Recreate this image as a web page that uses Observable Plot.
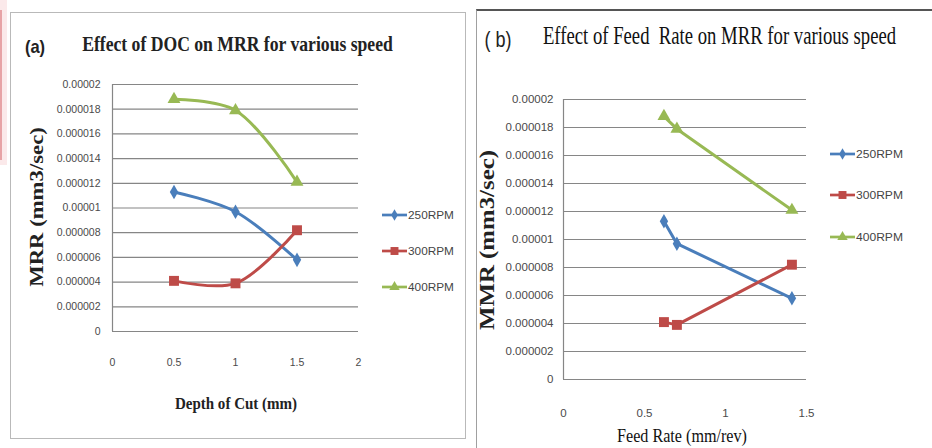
<!DOCTYPE html>
<html><head><meta charset="utf-8">
<script src="https://cdn.jsdelivr.net/npm/d3@7"></script>
<script src="https://cdn.jsdelivr.net/npm/@observablehq/plot@0.6"></script>
<style>
body{margin:0;background:#fff;}
#root{position:relative;width:932px;height:448px;overflow:hidden;background:#fff;}
.abs{position:absolute;}
.lbl{position:absolute;left:0;top:0;white-space:pre;transform-origin:0 0;line-height:1;}
</style></head><body><div id="root"></div>
<script>
// ---- data ----
const speeds = ["250RPM", "300RPM", "400RPM"];
const depthOfCut = [0.5, 1, 1.5];            // mm
const feedRate = [0.62, 0.70, 1.41];         // mm/rev
const mrr250 = [0.0000113, 0.0000097, 0.0000058];
const mrr300 = [0.0000041, 0.0000039, 0.0000082];
const mrr400 = [0.0000188, 0.0000179, 0.0000121];
const yTicks = [0, 0.000002, 0.000004, 0.000006, 0.000008, 0.00001, 0.000012, 0.000014, 0.000016, 0.000018, 0.00002];
const xTicksA = [0, 0.5, 1, 1.5, 2];
const xTicksB = [0, 0.5, 1, 1.5];

const colors = ["#4a7ebb", "#be4b48", "#98b954"];
const symbols = ["diamond", "square", "triangle"];
const symbolR = [4.4, 5.6, 4.8];

const series = [mrr250, mrr300, mrr400];
const rows = [];
speeds.forEach((s, i) => series[i].forEach((v, j) => rows.push({speed: s, doc: depthOfCut[j], feed: feedRate[j], mrr: v})));

const root = document.getElementById("root");
const fmtY = d => d === 0 ? "0" : d.toFixed(6).replace(/0+$/, "");

function panel({x, xDomain, xTicks, width, height, mt, mb, ml, mr, curve, padX, padY, fs}) {
  return Plot.plot({
    width, height, marginTop: mt, marginBottom: mb, marginLeft: ml, marginRight: mr,
    style: {fontFamily: "'Liberation Sans', Arial, sans-serif", fontSize: fs + "px", color: "#4a4a4a", background: "transparent", overflow: "visible"},
    x: {domain: xDomain},
    y: {domain: [0, 0.00002]},
    color: {domain: speeds, range: colors},
    marks: [
      Plot.gridY(yTicks, {stroke: "#868686", strokeOpacity: 1, strokeWidth: 1.2}),
      Plot.ruleX([0], {stroke: "#868686", strokeWidth: 1.2}),
      Plot.axisY(yTicks, {tickSize: 0, tickPadding: padY, tickFormat: fmtY, label: null}),
      Plot.axisX(xTicks, {tickSize: 0, tickPadding: padX, tickFormat: d => String(d), label: null}),
      Plot.line(rows, {x, y: "mrr", z: "speed", stroke: "speed", strokeWidth: 3, curve}),
      ...speeds.map((s, i) => Plot.dot(rows.filter(r => r.speed === s),
        {x, y: "mrr", fill: "speed", symbol: symbols[i], r: symbolR[i], stroke: null}))
    ]
  });
}

function place(el, left, top) {
  el.style.position = "absolute"; el.style.left = left + "px"; el.style.top = top + "px";
  root.appendChild(el);
}

function box(left, top, w, h, css) {
  const d = document.createElement("div");
  d.className = "abs";
  Object.assign(d.style, {left: left + "px", top: top + "px", width: w + "px", height: h + "px"}, css);
  root.appendChild(d);
}

function label(text, cx, cy, w, font, color, rot = 0) {
  const s = document.createElement("span");
  s.className = "lbl";
  s.textContent = text;
  s.style.font = font;
  s.style.color = color || "#222";
  root.appendChild(s);
  const w0 = s.offsetWidth;
  const k = w / w0;
  s.style.transform = `translate(${cx}px,${cy}px) rotate(${rot}deg) scale(${k},1) translate(-50%,-50%)`;
}

function legend(left, ys, fs, textW) {
  speeds.forEach((s, i) => {
    const svg = d3.create("svg").attr("width", 30).attr("height", 16)
      .style("position", "absolute").style("left", left + "px").style("top", (ys[i] - 8) + "px").style("overflow", "visible");
    svg.append("line").attr("x1", 0).attr("x2", 25).attr("y1", 8).attr("y2", 8)
      .attr("stroke", colors[i]).attr("stroke-width", 2.7);
    const sym = [d3.symbolDiamond, d3.symbolSquare, d3.symbolTriangle][i];
    svg.append("path").attr("d", d3.symbol(sym, Math.PI * (symbolR[i] * 0.8) ** 2)())
      .attr("transform", "translate(12.5,8)").attr("fill", colors[i]);
    root.appendChild(svg.node());
    label(s, left + 26 + textW / 2, ys[i], textW, `${fs}px 'Liberation Sans', Arial, sans-serif`, "#444");
  });
}

// background decorations
box(0, 0, 7, 165, {background: "#fbe9ea"});
box(0, 10, 1.5, 150, {background: "#e7a3a6"});
box(10, 12, 456, 427, {border: "1px solid #b9b9b9", boxSizing: "border-box"});
box(476, 9, 470, 460, {borderTop: "2px solid #555", borderLeft: "1px solid #a0a0a0", boxSizing: "border-box"});

// panel (a)
place(panel({x: "doc", xDomain: [0, 2], xTicks: xTicksA, width: 470, height: 448,
  mt: 84, mb: 117, ml: 112, mr: 112, curve: "catmull-rom", padX: 27, padY: 12, fs: 10.5}), 0, 0);
// panel (b)
place(panel({x: "feed", xDomain: [0, 1.5], xTicks: xTicksB, width: 462, height: 448,
  mt: 99, mb: 69, ml: 93, mr: 126, curve: "linear", padX: 29, padY: 10, fs: 11.5}), 470, 0);

// titles
label("(a)", 35, 47, 20, "bold 19px 'Liberation Sans', Arial, sans-serif", "#222");
label("Effect of DOC on MRR for various speed", 237.5, 44, 311, "bold 22px 'Liberation Serif', serif", "#222");
label("( b)", 498, 40, 27, "22px 'Liberation Sans', Arial, sans-serif", "#222");
label("Effect of Feed  Rate on MRR for various speed", 719.5, 36, 353, "26px 'Liberation Serif', serif", "#111");

// axis titles
label("Depth of Cut (mm)", 236, 404, 122, "bold 16px 'Liberation Serif', serif", "#222");
label("Feed Rate (mm/rev)", 682, 436, 130, "18px 'Liberation Serif', serif", "#111");
label("MRR (mm3/sec)", 37, 207, 159, "bold 19px 'Liberation Serif', serif", "#222", -90);
label("MMR (mm3/sec)", 487, 240, 180, "bold 20px 'Liberation Serif', serif", "#222", -90);

// legends
legend(382, [215, 251, 287], 10, 46);
legend(830, [154, 195, 237], 10, 47);
</script>
</body></html>
